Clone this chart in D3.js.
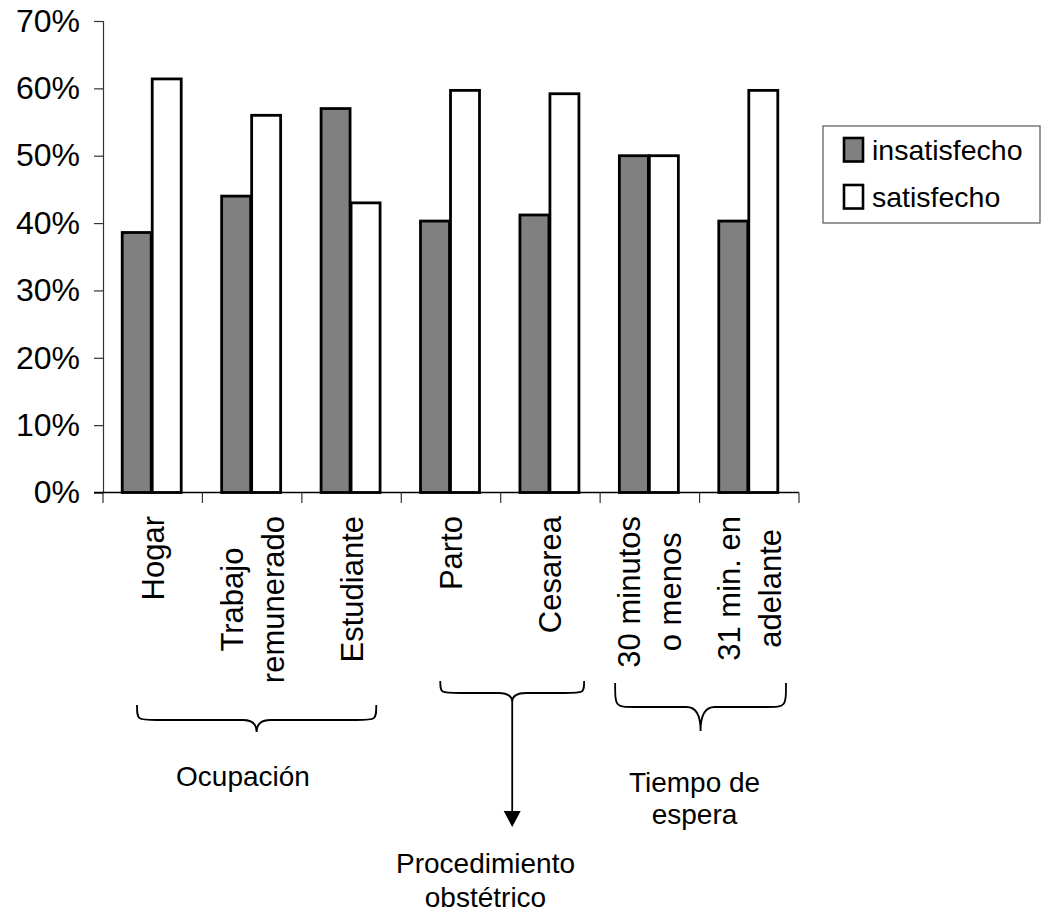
<!DOCTYPE html>
<html>
<head>
<meta charset="utf-8">
<script src="https://cdn.jsdelivr.net/npm/d3@7"></script>
<style>
  html, body { margin: 0; padding: 0; background: #fff; }
  svg { display: block; font-family: Arial, "Liberation Sans", sans-serif; }
</style>
</head>
<body>
<svg id="chart" width="1042" height="915"></svg>
<script>
// Satisfaction by occupation, obstetric procedure and waiting time
const categories = [
  ["Hogar"],
  ["Trabajo", "remunerado"],
  ["Estudiante"],
  ["Parto"],
  ["Cesarea"],
  ["30 minutos", "o menos"],
  ["31 min. en", "adelante"]
];
const seriesNames = ["insatisfecho", "satisfecho"];
const insatisfecho = [0.386, 0.44, 0.57, 0.403, 0.412, 0.50, 0.403];
const satisfecho   = [0.614, 0.56, 0.43, 0.597, 0.592, 0.50, 0.597];
const yTicks = [0, 0.1, 0.2, 0.3, 0.4, 0.5, 0.6, 0.7];

// Category groups shown with braces under the axis
const groupLabels = [["Ocupación"], ["Procedimiento", "obstétrico"], ["Tiempo de", "espera"]];
const groupFirst = [0, 3, 5];
const groupLast = [2, 4, 6];

const svg = d3.select("#chart");
const plotLeft = 103, plotRight = 799, plotTop = 21, plotBottom = 492.5;

const x = d3.scaleBand().domain(d3.range(categories.length)).range([plotLeft, plotRight]).padding(0);
const y = d3.scaleLinear().domain([0, 0.7]).range([plotBottom, plotTop]);
const xs = d3.scaleBand().domain(seriesNames).range([-30, 30]).padding(0);
const fills = { insatisfecho: "#808080", satisfecho: "#ffffff" };

const rows = categories.map((c, i) => ({ i, insatisfecho: insatisfecho[i], satisfecho: satisfecho[i] }));

// Bars
const g = svg.append("g");
rows.forEach(r => {
  const cx = x(r.i) + x.bandwidth() / 2 - 1;
  seriesNames.forEach(s => {
    g.append("rect")
      .attr("x", cx + xs(s) + 0.5)
      .attr("width", xs.bandwidth() - 1)
      .attr("y", y(r[s]))
      .attr("height", y(0) - y(r[s]))
      .attr("fill", fills[s])
      .attr("stroke", "#000")
      .attr("stroke-width", 2.8);
  });
});

// Y axis
const yAxis = d3.axisLeft(y).tickValues(yTicks).tickSize(9).tickFormat(d3.format(".0%"));
const ya = svg.append("g").attr("transform", `translate(${plotLeft},0)`).call(yAxis);
ya.select(".domain").attr("stroke", "#333").attr("stroke-width", 1.2);
ya.selectAll(".tick line").attr("stroke", "#333").attr("stroke-width", 1.2);
ya.selectAll(".tick text")
  .attr("x", -23)
  .attr("font-size", 32)
  .attr("font-family", "Arial, 'Liberation Sans', sans-serif")
  .attr("fill", "#000");

// X axis line and category separators
svg.append("line")
  .attr("x1", plotLeft - 9).attr("x2", plotRight)
  .attr("y1", y(0)).attr("y2", y(0))
  .attr("stroke", "#000").attr("stroke-width", 1.5);
const sepX = d3.range(categories.length + 1).map(i => plotLeft + i * x.step());
svg.selectAll(".sep").data(sepX).enter().append("line")
  .attr("x1", d => d).attr("x2", d => d)
  .attr("y1", y(0)).attr("y2", y(0) + 10.5)
  .attr("stroke", "#333").attr("stroke-width", 1.2);

// Rotated category labels
const labTop = 516, lineGap = 41;
categories.forEach((lines, i) => {
  const cx = x(i) + x.bandwidth() / 2;
  const tmp = lines.map(t => svg.append("text").attr("font-size", 31).text(t));
  const lmax = d3.max(tmp, t => t.node().getComputedTextLength());
  tmp.forEach(t => t.remove());
  const cy = labTop + lmax / 2;
  lines.forEach((t, k) => {
    const bx = cx + 11 + (k - (lines.length - 1) / 2) * lineGap;
    svg.append("text")
      .attr("transform", `translate(${bx},${cy}) rotate(-90)`)
      .attr("text-anchor", "middle")
      .attr("font-size", 31)
      .attr("fill", "#000")
      .text(t);
  });
});

// Braces grouping categories
function bracePath(x0, x1, yEnd, yBar, xTip, yTip) {
  const r = 20;
  return `M${x0},${yEnd} C${x0},${yBar} ${x0},${yBar} ${x0 + r},${yBar} L${xTip - 14},${yBar} ` +
         `Q${xTip},${yBar} ${xTip},${yTip} Q${xTip},${yBar} ${xTip + 14},${yBar} ` +
         `L${x1 - r},${yBar} C${x1},${yBar} ${x1},${yBar} ${x1},${yEnd}`;
}
const braceInset = [[34, 25], [39, 16], [15, 13]];
const braceY = [[705, 720, 732], [681, 693, 702], [683, 707, 731]];
groupLabels.forEach((lab, gi) => {
  const x0 = x(groupFirst[gi]) + braceInset[gi][0];
  const x1 = x(groupLast[gi]) + x.bandwidth() - braceInset[gi][1];
  const xt = (x0 + x1) / 2;
  svg.append("path")
    .attr("d", bracePath(x0, x1, braceY[gi][0], braceY[gi][1], xt, braceY[gi][2]))
    .attr("fill", "none").attr("stroke", "#000").attr("stroke-width", 1.8);
  if (gi === 1) {
    svg.append("line").attr("x1", xt).attr("x2", xt).attr("y1", braceY[gi][2]).attr("y2", 812)
      .attr("stroke", "#000").attr("stroke-width", 1.8);
    svg.append("path").attr("d", `M${xt - 8.5},811 L${xt + 8.5},811 L${xt},827 Z`).attr("fill", "#000");
  }
});

// Group captions
const captionPos = [[243, 786], [485.5, 873], [694.5, 791.5]];
const captionGap = [0, 33.5, 32];
groupLabels.forEach((lab, gi) => {
  lab.forEach((t, k) => {
    svg.append("text")
      .attr("x", captionPos[gi][0])
      .attr("y", captionPos[gi][1] + k * captionGap[gi])
      .attr("text-anchor", "middle")
      .attr("font-size", 28)
      .attr("fill", "#000")
      .text(t);
  });
});

// Legend
const lg = svg.append("g");
lg.append("rect").attr("x", 823).attr("y", 126).attr("width", 217).attr("height", 97)
  .attr("fill", "#fff").attr("stroke", "#555").attr("stroke-width", 1.2);
seriesNames.forEach((s, k) => {
  const yy = 138 + k * 47;
  lg.append("rect").attr("x", 844).attr("y", yy).attr("width", 19).attr("height", 23.5)
    .attr("fill", fills[s]).attr("stroke", "#000").attr("stroke-width", 2.6);
  lg.append("text").attr("x", 872).attr("y", yy + 22).attr("font-size", 28.5)
    .attr("fill", "#000").text(s);
});
</script>
</body>
</html>
